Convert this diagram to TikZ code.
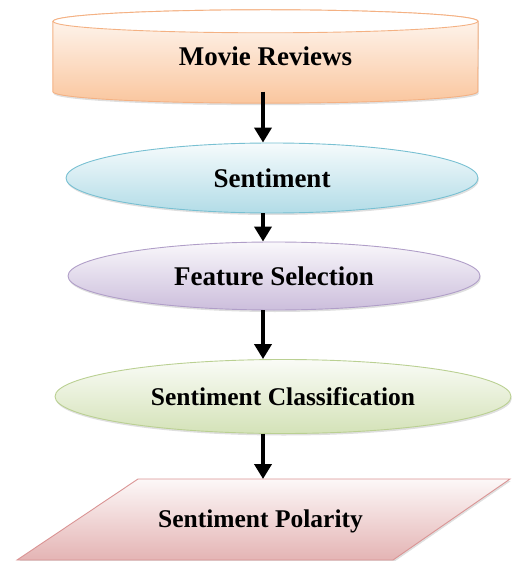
\documentclass[tikz,border=0pt]{standalone}
\usepackage{fontspec}
\setmainfont{Liberation Serif}
\usepackage{tikz}
\usetikzlibrary{arrows.meta,positioning,shapes.geometric,shadows,backgrounds}
\definecolor{dbcol}{RGB}{250,198,158}
\definecolor{dbline}{RGB}{244,177,131}
\definecolor{sacol}{RGB}{178,220,231}
\definecolor{saline}{RGB}{120,192,210}
\definecolor{fscol}{RGB}{204,190,220}
\definecolor{fsline}{RGB}{176,158,200}
\definecolor{sccol}{RGB}{212,226,184}
\definecolor{scline}{RGB}{186,208,146}
\definecolor{spcol}{RGB}{228,180,180}
\definecolor{spline}{RGB}{218,148,148}
\tikzset{
  txt/.style   ={font=\fontsize{27}{30}\selectfont\bfseries, align=center, inner sep=0pt},
  shd/.style   ={drop shadow={opacity=0.25, shadow xshift=0.8pt, shadow yshift=-2pt}},
  oval/.style  ={ellipse, txt, line width=0.9pt, shd},
  sa/.style    ={oval, draw=saline, top color=sacol!12, bottom color=sacol},
  fs/.style    ={oval, draw=fsline, top color=fscol!12, bottom color=fscol},
  sc/.style    ={oval, draw=scline, top color=sccol!12, bottom color=sccol},
  flow/.style  ={-{Triangle[length=15pt,width=17pt]}, line width=4pt},
}

\begin{document}
\begin{tikzpicture}[x=1pt,y=1pt]
  \useasboundingbox (0,0) rectangle (512,-561);
  \coordinate (spine) at (263,0);

  % data store
  \node[txt, minimum width=425pt, minimum height=70pt] (reviews) at (265.5,-56.5) {Movie Reviews};
  \begin{scope}[on background layer]
    \draw[shd, draw=dbline, line width=0.9pt, top color=dbcol!10, bottom color=dbcol]
      (reviews.north west) -- (reviews.south west)
      arc[start angle=180, end angle=360, x radius=212.5, y radius=11.5]
      -- (reviews.north east)
      arc[start angle=0, end angle=180, x radius=212.5, y radius=11.5] -- cycle;
    \draw[fill=white, draw=dbline, line width=0.9pt]
      (reviews.north) ellipse[x radius=212.5, y radius=11.5];
  \end{scope}

  \node[sa, minimum width=412pt, minimum height=70pt] (senti) at (272,-178) {Sentiment};
  \node[fs, minimum width=412pt, minimum height=68pt] (feat) at (274,-276) {Feature Selection};
  \node[sc, minimum width=456pt, minimum height=74pt, font=\fontsize{25.5}{28}\selectfont\bfseries]
    (classif) at (283,-396.5) {Sentiment Classification};

  % output
  \node[txt, font=\fontsize{25.5}{28}\selectfont\bfseries] (polarity) at (260.5,-521) {Sentiment Polarity};
  \begin{scope}[on background layer]
    \draw[shd, draw=spline, line width=0.9pt, top color=spcol!10, bottom color=spcol]
      (138,-479) -- (510,-479) -- (393,-560) -- (17,-560) -- cycle;
  \end{scope}

  \foreach \a/\b in {reviews/senti,senti/feat,feat/classif}
    \draw[flow] (spine |- \a.south) -- (spine |- \b.north);
  \draw[flow] (spine |- classif.south) -- (spine |- 0,-479);
\end{tikzpicture}
\end{document}
